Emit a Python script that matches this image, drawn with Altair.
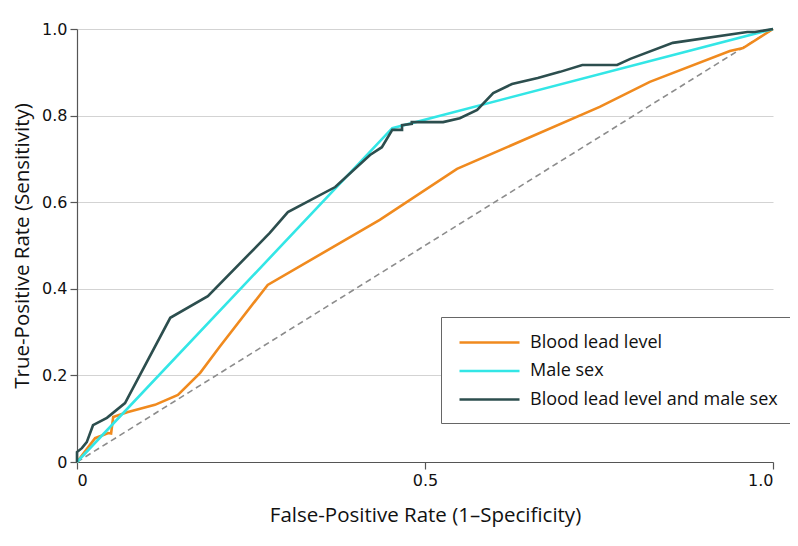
import altair as alt
import pandas as pd

series_names = ["Blood lead level", "Male sex", "Blood lead level and male sex"]
series_colors = ["#F08A1E", "#33E6E6", "#2C4E4E"]

lead_x = [0, 0.010, 0.026, 0.045, 0.049, 0.052, 0.072, 0.112, 0.145, 0.177, 0.205, 0.274, 0.435, 0.546, 0.751, 0.823, 0.938, 0.957, 1.0]
lead_y = [0, 0.021, 0.055, 0.067, 0.066, 0.104, 0.115, 0.132, 0.155, 0.206, 0.266, 0.409, 0.559, 0.677, 0.820, 0.878, 0.949, 0.956, 1.0]

male_x = [0, 0.453, 1.0]
male_y = [0, 0.771, 1.0]

combo_x = [0, 0, 0.007, 0.014, 0.023, 0.043, 0.069, 0.134, 0.188, 0.277, 0.303, 0.371, 0.421, 0.438, 0.453,
           0.467, 0.467, 0.481, 0.481, 0.526, 0.550, 0.575, 0.598, 0.625, 0.662, 0.694, 0.726, 0.776, 0.795,
           0.856, 0.963, 0.974, 1.0]
combo_y = [0, 0.023, 0.032, 0.046, 0.085, 0.102, 0.136, 0.333, 0.383, 0.529, 0.577, 0.635, 0.709, 0.727, 0.767,
           0.767, 0.778, 0.781, 0.785, 0.785, 0.794, 0.813, 0.852, 0.873, 0.887, 0.901, 0.917, 0.917, 0.931,
           0.968, 0.993, 0.993, 1.0]

ref_x = [0, 1]
ref_y = [0, 1]

x_ticks = [0, 0.5, 1.0]
y_ticks = [0, 0.2, 0.4, 0.6, 0.8, 1.0]

rows = []
for name, xs, ys in zip(series_names, [lead_x, male_x, combo_x], [lead_y, male_y, combo_y]):
    for i, (a, b) in enumerate(zip(xs, ys)):
        rows.append({"series": name, "fpr": a, "tpr": b, "idx": i})
df = pd.DataFrame(rows)
ref_df = pd.DataFrame({"fpr": ref_x, "tpr": ref_y})

label_expr = "datum.value == 0 ? '0' : format(datum.value, '.1f')"
title_font = "Open Sans"
label_font = "DejaVu Sans"

x_enc = alt.X(
    "fpr:Q",
    scale=alt.Scale(domain=[0, 1], nice=False, zero=False),
    axis=alt.Axis(
        values=x_ticks, labelExpr=label_expr, title="False-Positive Rate (1\u2013Specificity)",
        grid=False, tickSize=7, labelPadding=3, titlePadding=17,
    ),
)
y_enc = alt.Y(
    "tpr:Q",
    scale=alt.Scale(domain=[0, 1], nice=False, zero=False),
    axis=alt.Axis(
        values=y_ticks, labelExpr=label_expr, title="True-Positive Rate (Sensitivity)",
        grid=True, tickSize=7, labelPadding=3, titlePadding=9,
    ),
)

ref_line = alt.Chart(ref_df).mark_line(
    color="#8C8C8C", strokeDash=[6, 4], strokeWidth=1.6
).encode(x=x_enc, y=y_enc)

lines = alt.Chart(df).mark_line(strokeWidth=2.6, strokeJoin="miter").encode(
    x=x_enc,
    y=y_enc,
    color=alt.Color(
        "series:N",
        scale=alt.Scale(domain=series_names, range=series_colors),
        legend=alt.Legend(
            title=None, orient="none", legendX=364, legendY=288,
            symbolType="M-3,0H3", symbolSize=400, symbolStrokeWidth=2.6,
            symbolOffset=23,
            labelFontSize=18, labelFont=title_font, labelColor="#111111",
            strokeColor="#666666", fillColor="white", padding=14,
            rowPadding=7.5, labelOffset=29, labelLimit=400,
        ),
    ),
    order="idx:Q",
)

chart = alt.layer(ref_line, lines).properties(
    width=696, height=433,
    autosize=alt.AutoSizeParams(type="none"),
    padding={"left": 69, "top": 21, "right": 17, "bottom": 70},
).configure_view(stroke=None).configure_axis(
    domainColor="#555555", tickColor="#555555", gridColor="#D3D3D3", gridWidth=1.2,
    labelFont=label_font, labelFontSize=16, labelColor="#111111",
    titleFont=title_font, titleFontSize=20.5, titleFontWeight="normal", titleColor="#111111",
    domainWidth=1.2, tickWidth=1.2,
)

chart.save("out.html", embed_options={"renderer": "svg", "actions": False})
